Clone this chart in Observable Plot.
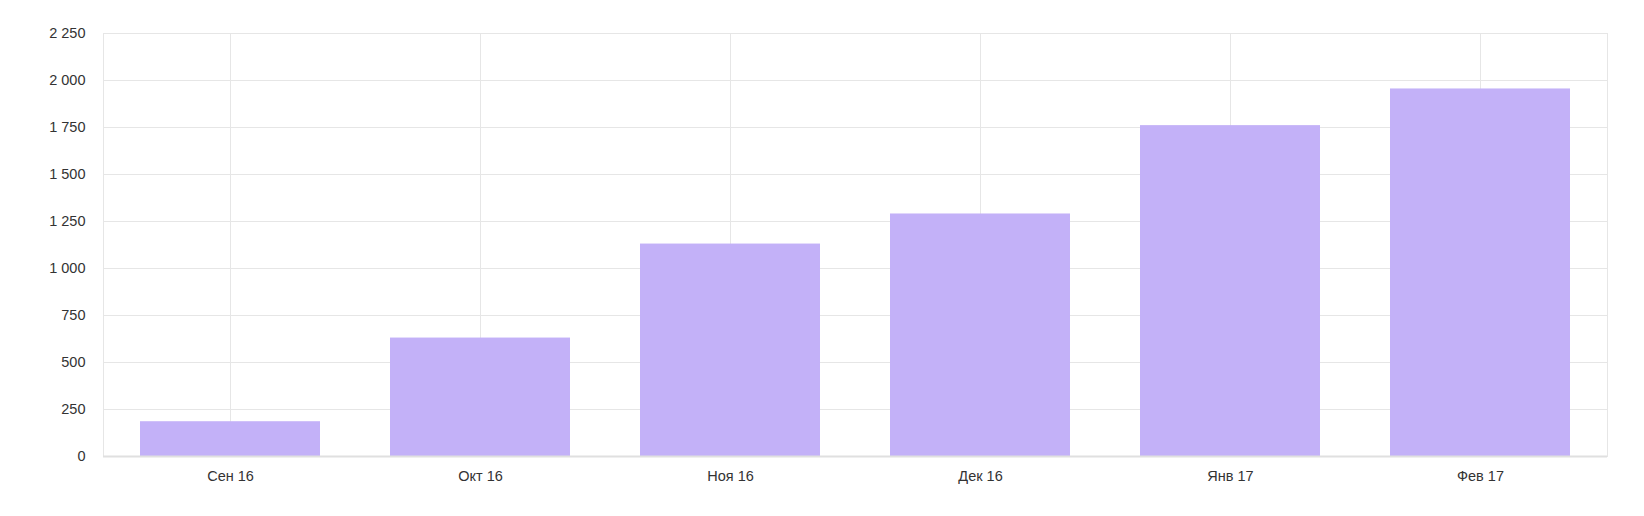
<!DOCTYPE html>
<html>
<head>
<meta charset="utf-8">
<script src="https://cdn.jsdelivr.net/npm/d3@7"></script>
<script src="https://cdn.jsdelivr.net/npm/@observablehq/plot@0.6"></script>
<style>
  html, body { margin: 0; padding: 0; background: #fff; }
</style>
</head>
<body>
<div id="chart"></div>
<script>
const months = ["Сен 16", "Окт 16", "Ноя 16", "Дек 16", "Янв 17", "Фев 17"];
const values = [185, 630, 1130, 1290, 1760, 1955];
const yTicks = [0, 250, 500, 750, 1000, 1250, 1500, 1750, 2000, 2250];

const data = months.map((m, i) => ({month: m, value: values[i]}));
const ru = d3.formatLocale({decimal: ",", thousands: "\u00a0", grouping: [3], currency: ["", " ₽"]});
const fmt = ru.format(",d");

const gridColor = "#e6e6e6";
const textColor = "#333333";

const chart = Plot.plot({
  width: 1644,
  height: 516,
  marginLeft: 103,
  marginRight: 37,
  marginTop: 33,
  marginBottom: 60,
  style: {fontFamily: "'Liberation Sans', Arial, sans-serif", fontSize: "14.5px", color: textColor, background: "#fff"},
  x: {domain: months, paddingInner: 0.28, paddingOuter: 0.14},
  y: {domain: [0, 2250]},
  marks: [
    Plot.gridY(yTicks, {stroke: gridColor, strokeOpacity: 1}),
    Plot.gridX(months, {stroke: gridColor, strokeOpacity: 1}),
    Plot.frame({stroke: gridColor}),
    Plot.barY(data, {x: "month", y: "value", fill: "#c3b1f8"}),
    Plot.ruleY([0], {stroke: "#e0e0e0", strokeWidth: 2}),
    Plot.axisY(yTicks, {tickSize: 0, tickPadding: 18, tickFormat: fmt, label: null, fill: textColor}),
    Plot.axisX(months, {tickSize: 0, tickPadding: 14, label: null, fill: textColor})
  ]
});
document.getElementById("chart").appendChild(chart);
</script>
</body>
</html>
